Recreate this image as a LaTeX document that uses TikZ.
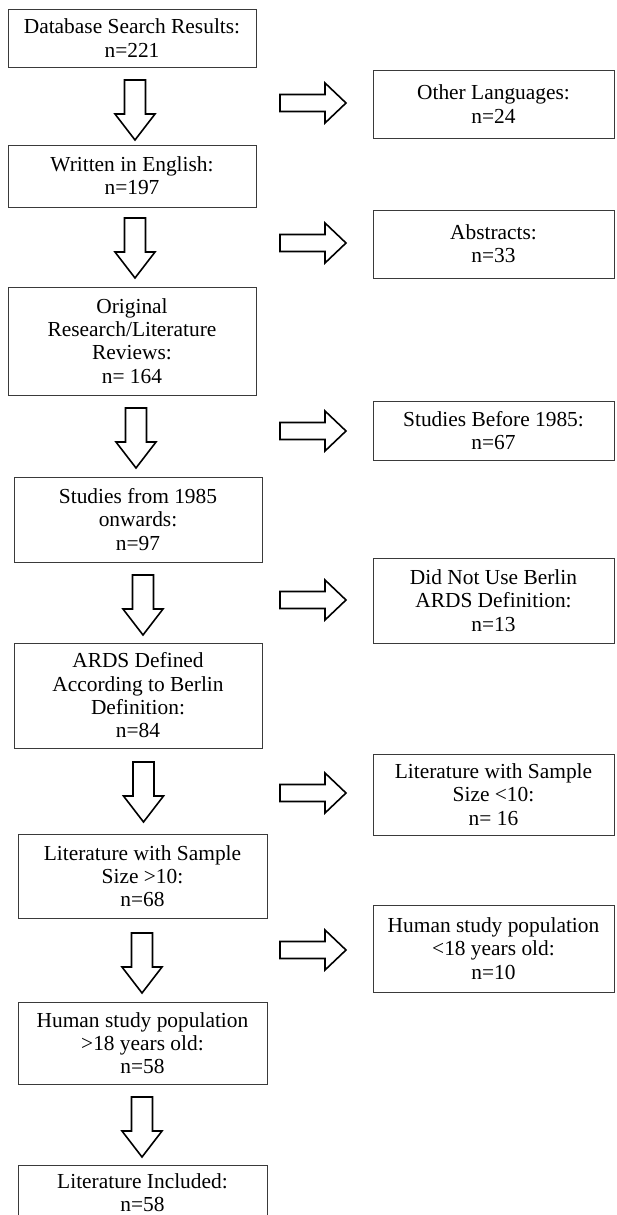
\documentclass[tikz,border=0pt]{standalone}
\usepackage{fontspec}
\setmainfont{Liberation Serif}
\definecolor{boxgray}{HTML}{3A3A3A}
\begin{document}
\begin{tikzpicture}[x=1pt,y=-1pt,
  box/.style={draw=boxgray, line width=0.9pt, inner sep=0pt, align=center,
    font=\fontsize{21.4}{23.3}\selectfont, text=black},
  leftbox/.style={box, minimum width=248pt},
  rightbox/.style={box, minimum width=241pt},
  arrowline/.style={draw=black, line width=1.6pt, line join=miter, fill=white},
  pics/darrow/.style={code={\draw[arrowline] (-10.5,0) -- (-10.5,34) -- (-20,34) -- (0,60) -- (20,34) -- (10.5,34) -- (10.5,0) -- cycle;}},
  pics/rarrow/.style={code={\draw[arrowline] (0,-8.5) -- (45,-8.5) -- (45,-20) -- (66,0) -- (45,20) -- (45,8.5) -- (0,8.5) -- cycle;}}]
\useasboundingbox (0,0) rectangle (616,1215);
\clip (0,0) rectangle (616,1215);
\fill[white] (0,0) rectangle (616,1215);

% left column
\node[leftbox, minimum height=58pt] (l1) at (132,38) {Database Search Results:\\n=221};
\node[leftbox, minimum height=62pt] (l2) at (132,176) {Written in English:\\n=197};
\node[leftbox, minimum height=108pt] (l3) at (132,341) {Original\\Research/Literature\\Reviews:\\n= 164};
\node[leftbox, minimum height=85pt] (l4) at (138,519.5) {Studies from 1985\\onwards:\\n=97};
\node[leftbox, minimum height=105pt] (l5) at (138,695.5) {ARDS Defined\\According to Berlin\\Definition:\\n=84};
\node[leftbox, minimum width=249pt, minimum height=84pt] (l6) at (142.5,876) {Literature with Sample\\Size >10:\\n=68};
\node[leftbox, minimum width=249pt, minimum height=82pt] (l7) at (142.5,1043) {Human study population\\>18 years old:\\n=58};
\node[leftbox, minimum width=249pt, minimum height=56pt] (l8) at (142.5,1193) {Literature Included:\\n=58};

% right column
\node[rightbox, minimum height=68pt] (r1) at (493.5,104) {Other Languages:\\n=24};
\node[rightbox, minimum height=68pt] (r2) at (493.5,244) {Abstracts:\\n=33};
\node[rightbox, minimum height=59pt] (r3) at (493.5,430.5) {Studies Before 1985:\\n=67};
\node[rightbox, minimum height=85pt] (r4) at (493.5,600.5) {Did Not Use Berlin\\ARDS Definition:\\n=13};
\node[rightbox, minimum height=81pt] (r5) at (493.5,794.5) {Literature with Sample\\Size <10:\\n= 16};
\node[rightbox, minimum height=87pt] (r6) at (493.5,948.5) {Human study population\\<18 years old:\\n=10};

% down block arrows
\pic at (135,80) {darrow};
\pic at (135,218) {darrow};
\pic at (136,408) {darrow};
\pic at (143,575) {darrow};
\pic at (143.5,762) {darrow};
\pic at (142,933) {darrow};
\pic at (142,1097) {darrow};

% right block arrows
\pic at (280,103) {rarrow};
\pic at (280,243) {rarrow};
\pic at (280,431) {rarrow};
\pic at (280,600) {rarrow};
\pic at (280,793) {rarrow};
\pic at (280,950) {rarrow};
\end{tikzpicture}
\end{document}
